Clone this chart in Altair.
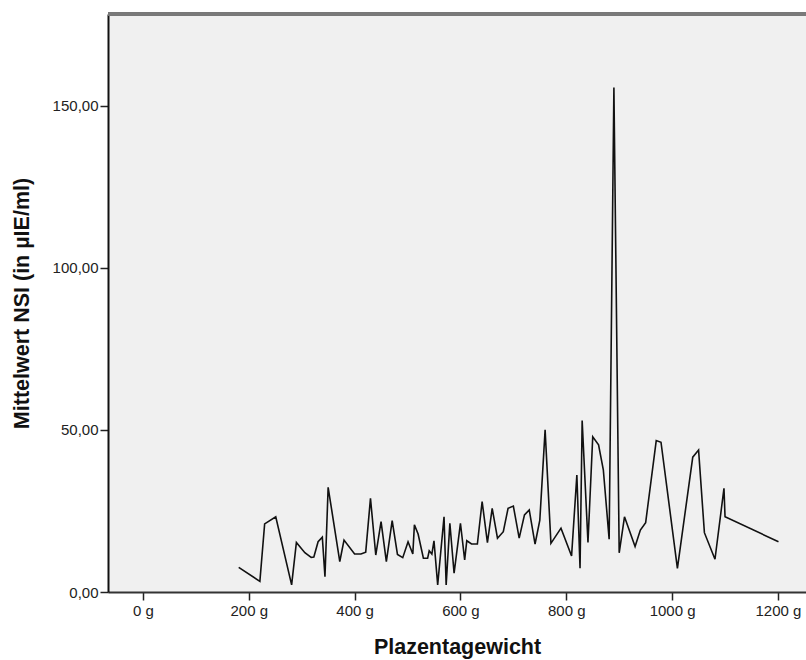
import altair as alt
import pandas as pd

gewicht = [181, 221, 230, 251, 281, 290, 306, 318, 323, 331, 339, 344, 350, 372, 380,
           400, 412, 421, 430, 440, 450, 460, 471, 481, 491, 501, 510, 513, 520, 530,
           538, 541, 546, 550, 557, 569, 573, 580, 588, 600, 608, 612, 621, 632, 641,
           651, 660, 670, 681, 690, 700, 711, 721, 730, 741, 750, 760, 771, 790, 810,
           820, 826, 830, 841, 850, 861, 870, 881, 890, 900, 910, 930, 940, 950, 970,
           979, 1010, 1039, 1050, 1061, 1081, 1098, 1100, 1201]
nsi = [7.6, 3.3, 21.0, 23.2, 2.2, 15.3, 12.1, 10.7, 10.8, 15.5, 16.9, 4.7, 32.3, 9.4, 16.0,
       11.7, 11.7, 12.3, 28.9, 11.4, 21.7, 9.4, 22.0, 11.6, 10.6, 15.5, 11.7, 20.7, 17.9, 10.4,
       10.4, 12.7, 11.7, 15.8, 2.2, 23.2, 2.2, 21.2, 5.8, 21.2, 9.9, 15.8, 14.8, 14.8, 27.9,
       15.2, 25.8, 16.6, 18.6, 25.8, 26.5, 16.6, 23.8, 25.3, 14.8, 22.2, 50.0, 15.0, 19.7, 11.1,
       36.1, 7.3, 52.9, 15.3, 47.9, 45.4, 37.7, 16.3, 155.6, 12.1, 23.2, 14.0, 19.1, 21.4, 46.7,
       46.2, 7.3, 41.6, 43.8, 18.3, 10.1, 32.0, 23.2, 15.5]

x_ticks = [0, 200, 400, 600, 800, 1000, 1200]
y_ticks = [0, 50, 100, 150]

df = pd.DataFrame({"g": gewicht, "nsi": nsi})

W, H = 698, 578
FONT = "Liberation Sans"

line = alt.Chart(df).mark_line(color="#111111", strokeWidth=1.6).encode(
    x=alt.X("g:Q",
            scale=alt.Scale(domain=[-66, 1253], nice=False, zero=False),
            axis=alt.Axis(values=x_ticks, labelExpr="datum.value + ' g'",
                          title="Plazentagewicht", grid=False,
                          domainColor="#333333", domainWidth=2,
                          tickColor="#222222", tickSize=8, tickWidth=1.5,
                          labelFont=FONT, labelFontSize=15, labelColor="#222222",
                          labelPadding=3,
                          titleFont=FONT, titleFontSize=21.5, titleFontWeight="bold",
                          titleColor="#111111", titleY=55, titleBaseline="middle")),
    y=alt.Y("nsi:Q",
            scale=alt.Scale(domain=[0, 178.3], nice=False, zero=True),
            axis=alt.Axis(values=y_ticks,
                          labelExpr="replace(format(datum.value, '.2f'), '.', ',')",
                          title="Mittelwert NSI (in µIE/ml)", grid=False,
                          domainColor="#111111", domainWidth=2,
                          tickColor="#222222", tickSize=8, tickWidth=1.5,
                          labelFont=FONT, labelFontSize=15, labelColor="#222222",
                          labelPadding=2,
                          titleFont=FONT, titleFontSize=21.5, titleFontWeight="bold",
                          titleColor="#111111", titleX=-86, titleBaseline="middle")),
)

top_border = alt.Chart(df).mark_rule(color="#7a7a7a", strokeWidth=2.5).encode(
    x=alt.value(0), x2=alt.value(W), y=alt.value(0)
)

chart = alt.layer(line, top_border).properties(
    width=W, height=H,
    autosize=alt.AutoSizeParams(type="none"),
    padding={"left": 108, "top": 14, "right": 0, "bottom": 68},
    background="white",
).configure_view(fill="#f0f0f0", strokeWidth=0)

chart.save("out.html", embed_options={"renderer": "svg", "actions": False})
